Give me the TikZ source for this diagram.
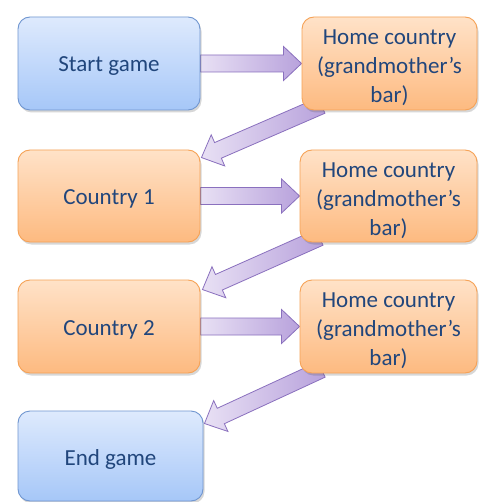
\documentclass[tikz,border=0pt]{standalone}
\usepackage{fontspec}
\setmainfont{Carlito}
\usetikzlibrary{calc,shadows,backgrounds}

\definecolor{txtblue}{RGB}{33,70,124}
\definecolor{bluetop}{RGB}{222,234,253}
\definecolor{bluebot}{RGB}{166,199,248}
\definecolor{blueline}{RGB}{112,150,208}
\definecolor{orgtop}{RGB}{255,226,200}
\definecolor{orgbot}{RGB}{253,186,128}
\definecolor{orgline}{RGB}{246,162,86}
\definecolor{arrlight}{RGB}{232,224,244}
\definecolor{arrdark}{RGB}{184,162,220}
\definecolor{arrline}{RGB}{138,112,190}

\tikzset{
  stagebox/.style={rectangle, rounded corners=12pt, inner sep=0pt, line width=0.9pt,
    drop shadow={shadow xshift=1.5pt, shadow yshift=-2.5pt, opacity=0.22, fill=black!70}},
  boxtext/.style={align=center, inner sep=0pt,
    font=\fontsize{23}{29}\selectfont, text=txtblue},
  bluebox/.style={stagebox, draw=blueline, top color=bluetop, bottom color=bluebot},
  orangebox/.style={stagebox, draw=orgline, top color=orgtop, bottom color=orgbot},
  flowarrow/.style={draw=arrline, line width=0.8pt, line join=miter,
    left color=arrlight, right color=arrdark},
}

% Block arrow from tail #1 to tip #2 (shaft 17, head 34 wide, head 18 long)
\newcommand\blockarrow[2]{%
  \path let \p1=(#1), \p2=(#2) in
    \pgfextra{\pgfmathsetmacro\arrang{atan2(\y2-\y1,\x2-\x1)}%
              \pgfmathsetmacro\arrlen{veclen(\x2-\x1,\y2-\y1)}%
              \global\let\arrang\arrang \global\let\arrlen\arrlen};
  \begin{scope}[shift={(#1)}, rotate=\arrang]
    \draw[flowarrow] (0,-8.5) -- (\arrlen-18,-8.5) -- (\arrlen-18,-17)
      -- (\arrlen,0) -- (\arrlen-18,17) -- (\arrlen-18,8.5) -- (0,8.5) -- cycle;
  \end{scope}}

\begin{document}
\begin{tikzpicture}[x=1pt, y=1pt]
  \useasboundingbox (0,0) rectangle (478,-502);

  \node[bluebox, minimum width=182pt, minimum height=93pt,
        label={[boxtext, yshift=-3pt]center:Start game}] (start) at (109,-63.5) {};
  \node[orangebox, minimum width=175pt, minimum height=93pt,
        label={[boxtext, yshift=-4.5pt]center:Home country\\(grandmother’s\\bar)}]
        (home1) at (389.5,-63.5) {};

  \node[orangebox, minimum width=182pt, minimum height=92pt,
        label={[boxtext, yshift=-3pt]center:Country 1}] (c1) at (109,-196) {};
  \node[orangebox, minimum width=177pt, minimum height=92pt,
        label={[boxtext, yshift=-4.5pt]center:Home country\\(grandmother’s\\bar)}]
        (home2) at (388.5,-196) {};

  \node[orangebox, minimum width=182pt, minimum height=93pt,
        label={[boxtext, yshift=-3pt]center:Country 2}] (c2) at (109,-326.5) {};
  \node[orangebox, minimum width=177pt, minimum height=93pt,
        label={[boxtext, yshift=-4.5pt]center:Home country\\(grandmother’s\\bar)}]
        (home3) at (388.5,-326.5) {};

  \node[bluebox, minimum width=185pt, minimum height=90pt,
        label={[boxtext, yshift=-3pt]center:End game}] (end) at (110.5,-456) {};

  % arrow ends
  \coordinate (tailA) at ($(home1.south west)+(20,5)$);
  \coordinate (tipA)  at ($(c1.north east)+(1,-8)$);
  \coordinate (tailB) at ($(home2.south west)+(20,5)$);
  \coordinate (tipB)  at ($(c2.north east)+(2,-10)$);
  \coordinate (tailC) at ($(home3.south west)+(22,4)$);
  \coordinate (tipC)  at ($(end.north east)+(1,-13)$);

  \begin{pgfonlayer}{background}
    \fill[white] (0,0) rectangle (478,-502);
    \blockarrow{start.east}{home1.west}
    \blockarrow{c1.east}{home2.west}
    \blockarrow{c2.east}{home3.west}
    \blockarrow{tailA}{tipA}
    \blockarrow{tailB}{tipB}
    \blockarrow{tailC}{tipC}
  \end{pgfonlayer}
\end{tikzpicture}
\end{document}
